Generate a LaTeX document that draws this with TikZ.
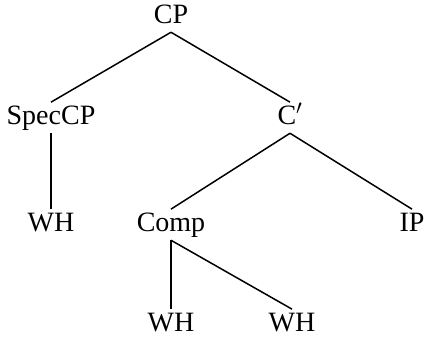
\documentclass[tikz,border=0pt]{standalone}
\usepackage{fontspec}
\setmainfont{Liberation Serif}
\usetikzlibrary{positioning}

\begin{document}
\begin{tikzpicture}[x=1pt,y=1pt,on grid,line width=1.5pt,
  every node/.style={font=\fontsize{28}{34}\selectfont,inner sep=1.5pt,
    text height=19.6pt,text depth=7pt}]
 \useasboundingbox (0,0) rectangle (424,-338);
 \node (cp) at (171,-16.7) {CP};
 \node (spec)[below left=101pt and 120pt of cp] {SpecCP};
 \node (cbar)[below right=101pt and 119pt of cp] {C$'$};
 \node (wh_1)[below=107pt of spec] {WH};
 \node (comp)[below left=107pt and 119pt of cbar] {Comp};
 \node (ip)[below right=107pt and 122pt of cbar] {IP};
 \node (wh_2)[below=100pt of comp] {WH};
 \node (wh_3)[right=121pt of wh_2] {WH};
 \draw (cp.south) -- (spec.north);
 \draw (cp.south) -- (cbar.north);
 \draw (spec.south) -- (wh_1.north);
 \draw (cbar.south) -- (comp.north);
 \draw (cbar.south) -- (ip.north);
 \draw (comp.south) -- (wh_2.north);
 \draw (comp.south) -- (wh_3.north);
\end{tikzpicture}
\end{document}
